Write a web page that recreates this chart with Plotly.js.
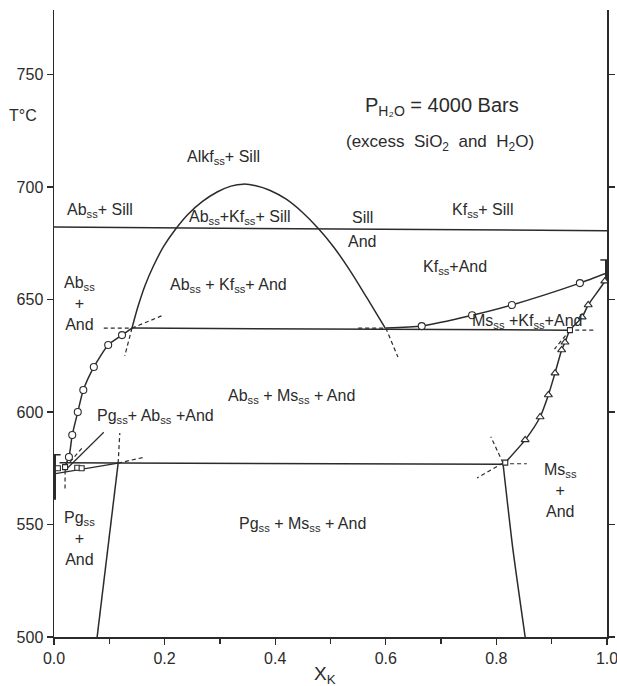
<!DOCTYPE html>
<html>
<head>
<meta charset="utf-8">
<script src="https://cdn.plot.ly/plotly-3.0.1.min.js"></script>
<style>html,body{margin:0;padding:0;background:#fff;}#chart{width:617px;height:686px;}</style>
</head>
<body>
<div id="chart"></div>
<script>
// ---- Data (X_K, T in °C) ----
const sillAndX = [0.0, 1.0];
const sillAndT = [682.2, 680.6];

const solvusDomeX = [0.141, 0.152, 0.165, 0.18, 0.198, 0.219, 0.242, 0.268, 0.295, 0.32, 0.342, 0.365, 0.39, 0.42, 0.45, 0.478, 0.505, 0.535, 0.566, 0.599];
const solvusDomeT = [637.3, 647.0, 656.5, 665.0, 673.5, 681.0, 687.8, 693.5, 697.8, 700.4, 701.3, 700.6, 698.6, 694.6, 688.6, 681.6, 673.6, 663.0, 650.7, 637.3];

const abSolvusX = [0.141, 0.123, 0.098, 0.072, 0.053, 0.043, 0.033, 0.027, 0.018];
const abSolvusT = [637.3, 634.2, 629.8, 620.0, 609.8, 600.0, 589.8, 580.0, 575.0];
const abPointsX = [0.123, 0.098, 0.072, 0.053, 0.043, 0.033, 0.027];
const abPointsT = [634.2, 629.8, 620.0, 609.8, 600.0, 589.8, 580.0];

const kfSolvusX = [0.6, 0.665, 0.756, 0.828, 0.951, 1.0];
const kfSolvusT = [637.3, 638.2, 643.0, 647.6, 657.3, 661.8];
const kfPointsX = [0.665, 0.756, 0.828, 0.951];
const kfPointsT = [638.2, 643.0, 647.6, 657.3];

const msSolvusX = [1.0, 0.996, 0.966, 0.955, 0.933, 0.924, 0.918, 0.906, 0.894, 0.879, 0.852, 0.816];
const msSolvusT = [661.8, 658.2, 647.6, 642.2, 636.4, 631.0, 627.6, 617.3, 607.6, 597.8, 587.6, 577.5];
const msPointsX = [0.996, 0.966, 0.955, 0.924, 0.918, 0.906, 0.894, 0.879, 0.852];
const msPointsT = [658.2, 647.6, 642.2, 631.0, 627.6, 617.3, 607.6, 597.8, 587.6];

const junctionPtsX = [0.007, 0.02, 0.042, 0.05, 0.933, 0.816];
const junctionPtsT = [575.0, 575.5, 575.2, 575.0, 636.4, 577.5];

const upperInvX = [0.141, 0.93];
const upperInvT = [637.3, 636.4];
const lowerInvX = [0.01, 0.116, 0.81];
const lowerInvT = [577.5, 577.3, 576.8];
const wedgeX = [0.0, 0.116];
const wedgeT = [572.5, 577.3];
const pgBoundX = [0.116, 0.078];
const pgBoundT = [577.3, 500];
const msBoundX = [0.812, 0.83, 0.852];
const msBoundT = [577.0, 538.7, 500];
const leaderX = [0.09, 0.02];
const leaderT = [591, 574];

const dashedX = [[0.09, 0.141], [0.141, 0.197], [0.141, 0.128], [0.55, 0.6], [0.6, 0.622],
                 [0.93, 0.98], [0.933, 0.905], [0.116, 0.119], [0.116, 0.165],
                 [0.812, 0.79], [0.812, 0.765], [0.812, 0.855], [0.029, 0.052], [0.02, 0.02]];
const dashedT = [[637.3, 637.3], [637.3, 643.0], [637.3, 625.0], [637.3, 637.3], [637.3, 624.4],
                 [636.4, 636.4], [636.4, 628.0], [577.3, 590.7], [577.3, 580.0],
                 [577.3, 589.0], [577.3, 570.7], [577.0, 577.0], [577.8, 584.4], [574.0, 565.0]];

const endBarX = [[0, 0], [1, 1]];
const endBarT = [[561, 581], [657.8, 667.6]];

const fieldLabels = [
  "Alkf<sub>ss</sub>+ Sill", "Ab<sub>ss</sub>+ Sill", "Ab<sub>ss</sub>+Kf<sub>ss</sub>+ Sill", "Sill", "And",
  "Kf<sub>ss</sub>+ Sill", "Kf<sub>ss</sub>+And", "Ab<sub>ss</sub> + Kf<sub>ss</sub>+ And", "Ab<sub>ss</sub><br>+<br>And",
  "Ab<sub>ss</sub> + Ms<sub>ss</sub> + And", "Pg<sub>ss</sub>+ Ab<sub>ss</sub> +And", "Ms<sub>ss</sub> +Kf<sub>ss</sub>+And",
  "Pg<sub>ss</sub> + Ms<sub>ss</sub> + And", "Pg<sub>ss</sub><br>+<br>And", "Ms<sub>ss</sub><br>+<br>And"
];
const fieldLabelX = [0.306, 0.083, 0.336, 0.557, 0.557, 0.774, 0.725, 0.315, 0.047, 0.429, 0.184, 0.856, 0.450, 0.047, 0.915];
const fieldLabelT = [713.3, 689.8, 686.6, 686.6, 676.0, 689.8, 664.4, 656.4, 648.4, 607.1, 597.8, 640.4, 550.2, 544.0, 564.9];

const xTicks = [0.0, 0.2, 0.4, 0.6, 0.8, 1.0];
const yTicks = [500, 550, 600, 650, 700, 750];

// ---- Build traces ----
const INK = '#2b2b2b';
const FONT = 'Liberation Sans, Arial, sans-serif';
const traces = [];
function line(x, y, opts) {
  traces.push({
    type: 'scatter', mode: 'lines', x: x, y: y, showlegend: false, hoverinfo: 'skip', cliponaxis: false,
    line: Object.assign({color: INK, width: 1.5}, (opts && opts.line) || {})
  });
}
line(sillAndX, sillAndT);
line(solvusDomeX, solvusDomeT, {line: {shape: 'spline', smoothing: 1}});
line(abSolvusX, abSolvusT, {line: {shape: 'spline', smoothing: 0.6}});
line(kfSolvusX, kfSolvusT, {line: {shape: 'spline', smoothing: 0.6}});
line(msSolvusX, msSolvusT, {line: {shape: 'spline', smoothing: 0.6}});
line(upperInvX, upperInvT);
line(lowerInvX, lowerInvT);
line(wedgeX, wedgeT, {line: {width: 1.2}});
line(pgBoundX, pgBoundT);
line(msBoundX, msBoundT, {line: {shape: 'spline', smoothing: 0.6}});
line(leaderX, leaderT, {line: {width: 1.2}});
for (let i = 0; i < dashedX.length; i++) line(dashedX[i], dashedT[i], {line: {dash: '4px,3px', width: 1.2}});
for (let i = 0; i < endBarX.length; i++) line(endBarX[i], endBarT[i], {line: {width: 4}});

function pts(x, y, sym, size) {
  traces.push({type: 'scatter', mode: 'markers', x: x, y: y, showlegend: false, hoverinfo: 'skip', cliponaxis: false,
    marker: {symbol: sym, size: size, color: '#fff', line: {color: INK, width: 1.1}}});
}
pts(abPointsX, abPointsT, 'circle', 7);
pts(kfPointsX, kfPointsT, 'circle', 7);
pts(msPointsX, msPointsT, 'triangle-up', 7);
pts(junctionPtsX, junctionPtsT, 'square', 5);

// ---- Annotations ----
const annotations = fieldLabels.map((t, i) => ({
  text: t, x: fieldLabelX[i], y: fieldLabelT[i], xref: 'x', yref: 'y', showarrow: false,
  font: {family: FONT, size: 16, color: INK}, xanchor: 'center', yanchor: 'middle'
}));
annotations.push({text: 'P<sub>H₂O</sub> = 4000 Bars', x: 0.702, y: 735.6, xref: 'x', yref: 'y', showarrow: false,
  font: {family: FONT, size: 20, color: INK}, xanchor: 'center', yanchor: 'middle'});
annotations.push({text: '(excess  SiO<sub>2</sub>  and  H<sub>2</sub>O)', x: 0.698, y: 719.6, xref: 'x', yref: 'y', showarrow: false,
  font: {family: FONT, size: 17, color: INK}, xanchor: 'center', yanchor: 'middle'});
annotations.push({text: 'T°C', x: -0.056, y: 732, xref: 'paper', yref: 'y', showarrow: false,
  font: {family: FONT, size: 16, color: INK}, xanchor: 'center', yanchor: 'middle'});
annotations.push({text: 'X<sub>K</sub>', x: 0.49, y: -0.061, xref: 'paper', yref: 'paper', showarrow: false,
  font: {family: FONT, size: 19, color: INK}, xanchor: 'center', yanchor: 'middle'});

const layout = {
  width: 617, height: 686,
  margin: {l: 54, r: 10, t: 10, b: 49},
  paper_bgcolor: '#fff', plot_bgcolor: '#fff',
  font: {family: FONT, color: INK},
  xaxis: {
    range: [0, 1], showgrid: false, zeroline: false, showline: true, linecolor: INK, linewidth: 1.5,
    ticks: 'outside', ticklen: 6, tickwidth: 1.3, tickcolor: INK,
    tickvals: xTicks, ticktext: xTicks.map(v => v.toFixed(1)),
    ticklabeloverflow: 'allow',
    tickfont: {family: FONT, size: 16, color: INK},
    minor: {dtick: 0.1, tick0: 0, ticks: 'outside', ticklen: 5, tickwidth: 1.3, tickcolor: INK, showgrid: false}
  },
  yaxis: {
    range: [500, 778.7], showgrid: false, zeroline: false, showline: true, linecolor: INK, linewidth: 1.5,
    mirror: 'ticks', ticks: 'outside', ticklen: 6, tickwidth: 1.3, tickcolor: INK,
    tickvals: yTicks, ticktext: yTicks.map(String),
    tickfont: {family: FONT, size: 16, color: INK}
  },
  shapes: [
    {type: 'line', xref: 'x', yref: 'y', x0: -0.012, x1: 0.012, y0: 581, y1: 581, line: {color: INK, width: 1.5}},
    {type: 'line', xref: 'x', yref: 'y', x0: 0.988, x1: 1.012, y0: 667.6, y1: 667.6, line: {color: INK, width: 1.5}},
    {type: 'line', xref: 'paper', yref: 'paper', x0: 1, x1: 1.014, y0: 0, y1: 0, line: {color: INK, width: 1.5}}
  ],
  annotations: annotations
};

Plotly.newPlot('chart', traces, layout, {staticPlot: true, displayModeBar: false});
</script>
</body>
</html>
